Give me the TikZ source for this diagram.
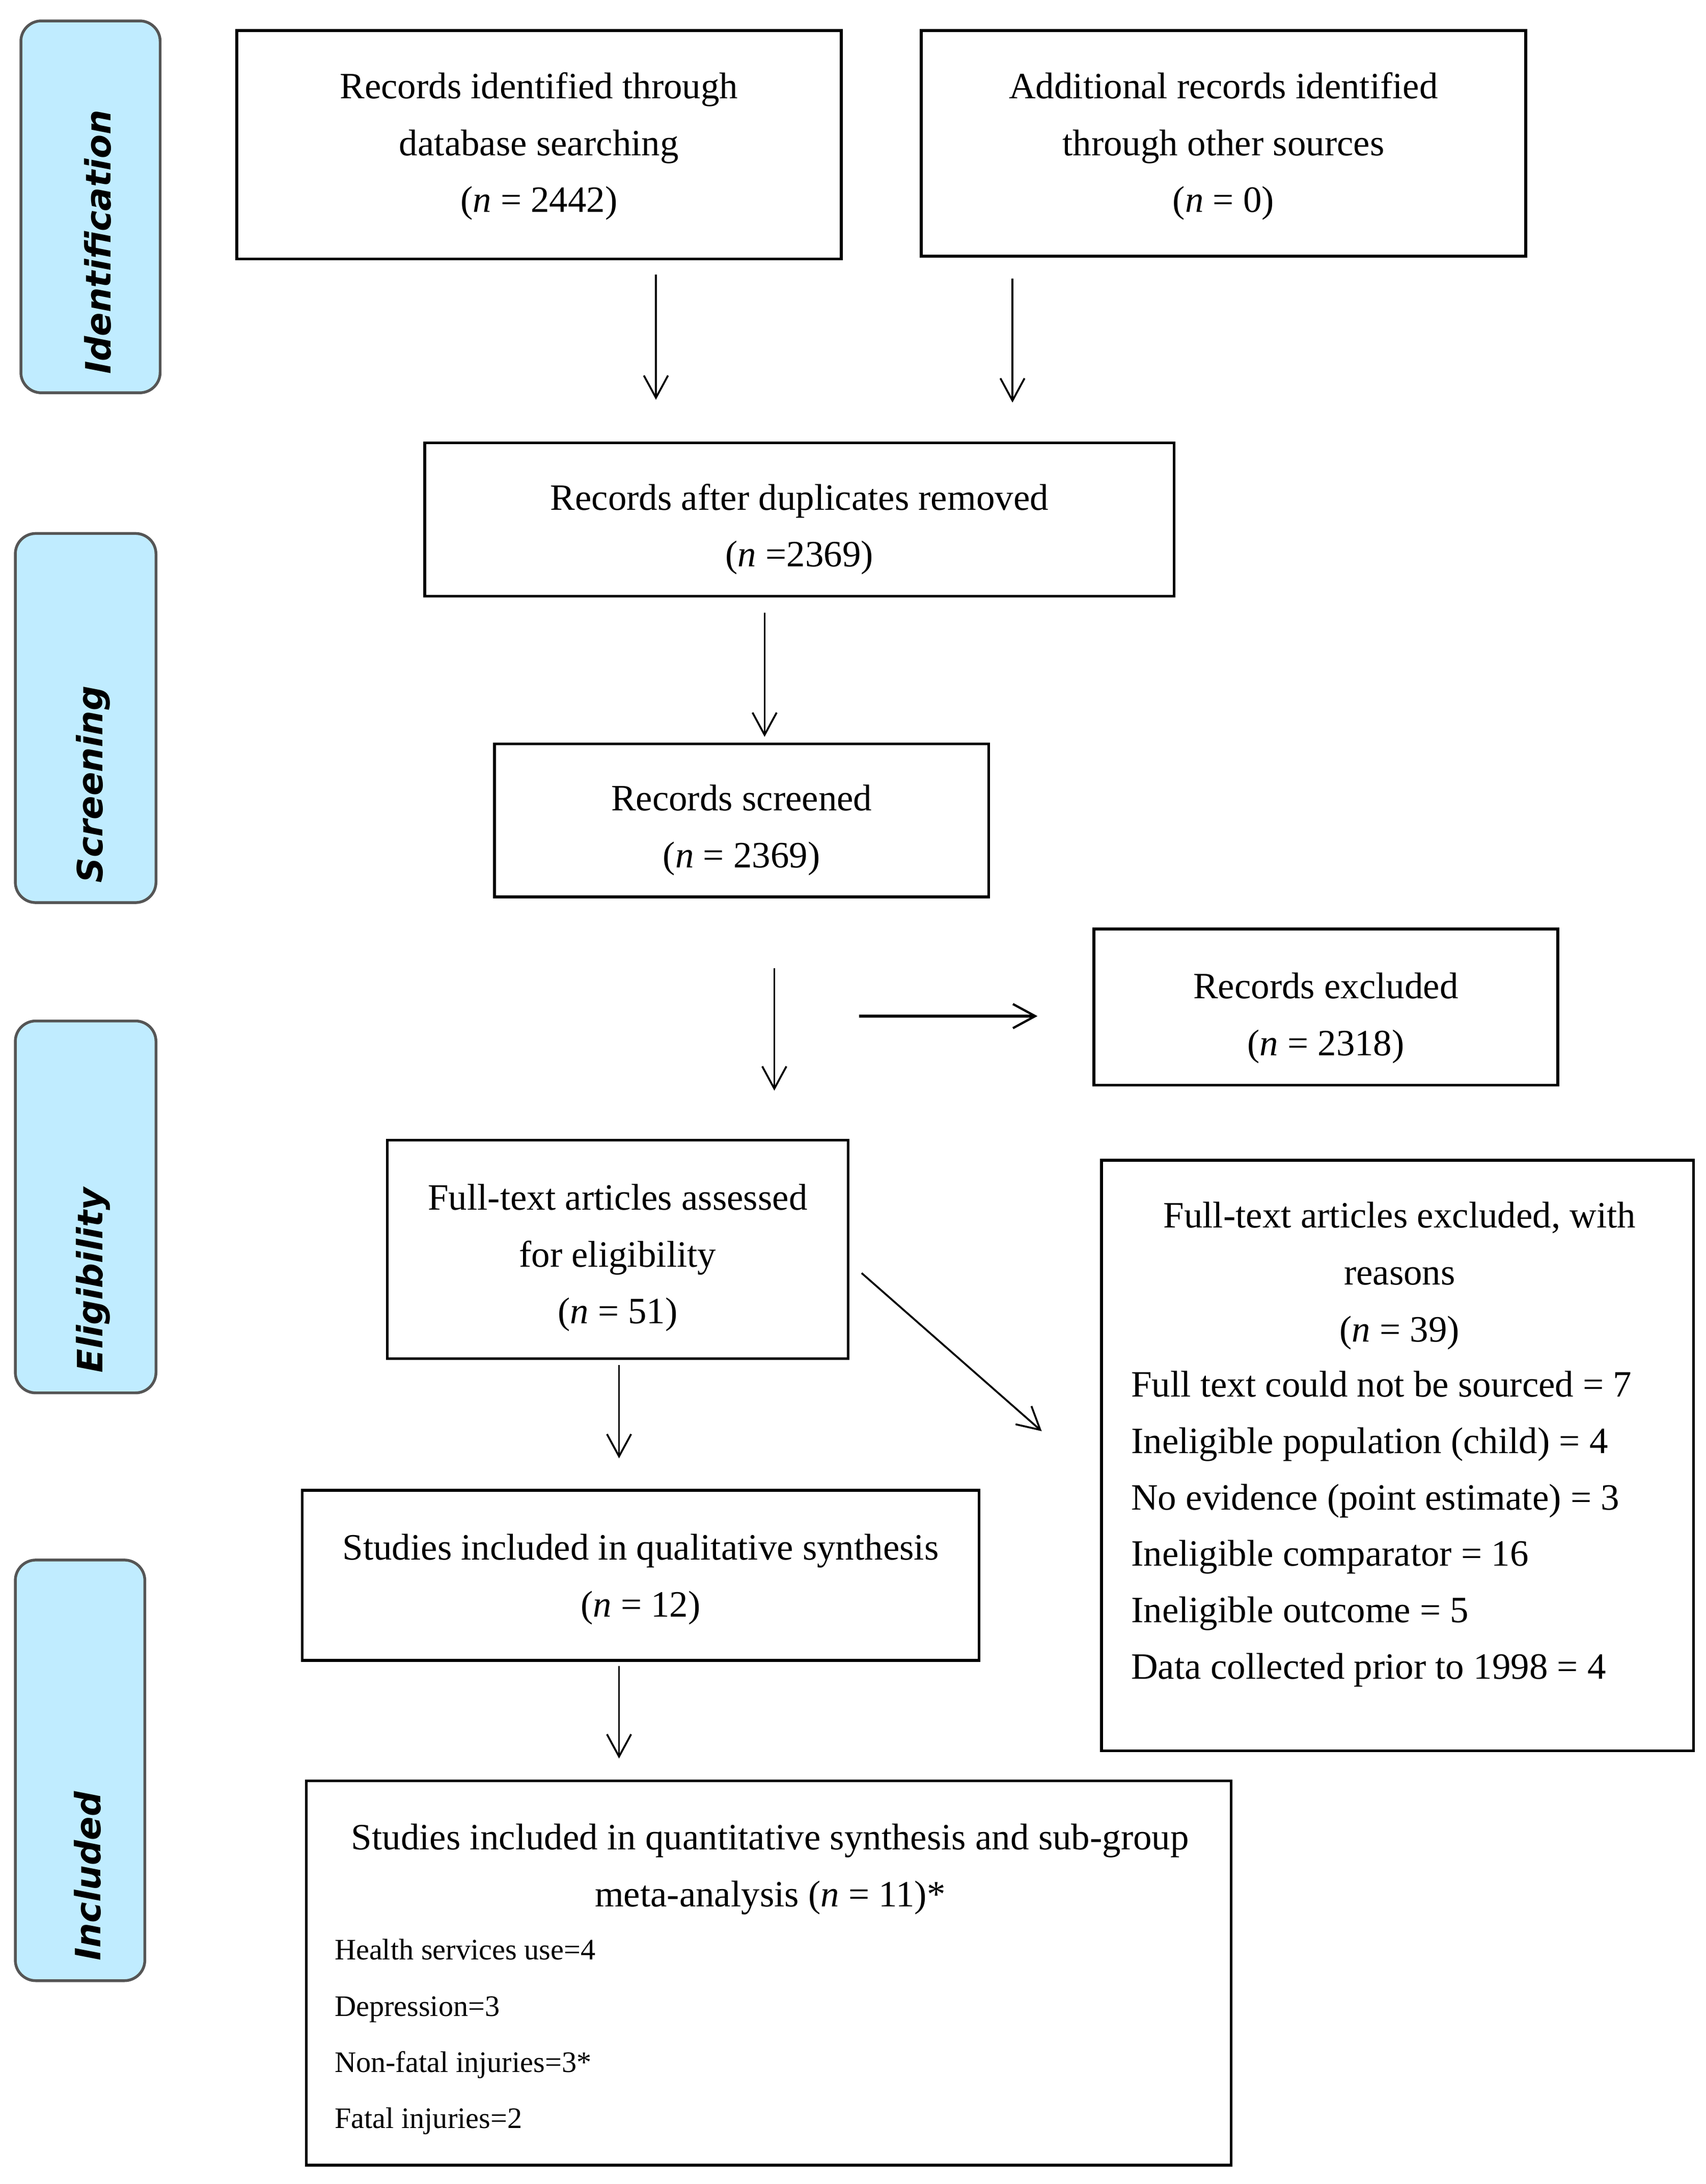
\documentclass[tikz,border=0pt]{standalone}
\usepackage{fontspec}
\setmainfont{Liberation Serif}
\newfontfamily\tabfont{DejaVu Sans}
\usetikzlibrary{arrows.meta}
\definecolor{tabblue}{RGB}{192,236,255}
\definecolor{tabedge}{RGB}{85,85,85}
\begin{document}
\begin{tikzpicture}[x=0.75pt,y=-0.75pt,
  tab/.style={draw=tabedge, line width=1.5pt, fill=tabblue, rounded corners=11pt, inner sep=0pt},
  tablabel/.style={rotate=90, anchor=west, inner sep=0pt, font=\tabfont\bfseries\itshape\fontsize{18.8}{22}\selectfont},
  box/.style={draw, line width=1.5pt, inner sep=0pt},
  txt/.style={inner sep=0pt, align=center, font=\fontsize{20}{30.6}\selectfont},
  listtxt/.style={inner sep=0pt, align=left, anchor=north west, font=\fontsize{20}{30.4}\selectfont},
  smalltxt/.style={inner sep=0pt, align=left, anchor=north west, font=\fontsize{16}{30.2}\selectfont},
  arr/.style={line width=1pt, -{Straight Barb[length=12pt,width=13pt,line width=1pt]}},
  thickarr/.style={line width=1.6pt, -{Straight Barb[length=12pt,width=13pt,line width=1.2pt]}}
]
\useasboundingbox (0,0) rectangle (1225,1568);

% phase tabs
\node[tab, minimum width={100*0.75pt}, minimum height={267*0.75pt}] (tabI) at (65,148.5) {};
\node[tablabel] (labI) at ([xshift=4pt,yshift=10.5pt]tabI.south) {Identification};
\node[tab, minimum width={101*0.75pt}, minimum height={265*0.75pt}] (tabS) at (61.5,515.5) {};
\node[tablabel] (labS) at ([xshift=4pt,yshift=11.25pt]tabS.south) {Screening};
\node[tab, minimum width={101*0.75pt}, minimum height={267*0.75pt}] (tabE) at (61.5,866.5) {};
\node[tablabel] (labE) at ([xshift=4pt,yshift=11.25pt]tabE.south) {Eligibility};
\node[tab, minimum width={93*0.75pt}, minimum height={302*0.75pt}] (tabN) at (57.5,1271) {};
\node[tablabel] (labN) at ([xshift=4pt,yshift=11.25pt]tabN.south) {Included};

% boxes
\node[box, minimum width={434*0.75pt}, minimum height={164*0.75pt}] (db) at (387,104) {};
\node[txt] (dbt) at ([yshift=-0.75pt]db.center)
  {Records identified through\\database searching\\(\textit{n} = 2442)};
\node[box, minimum width={434*0.75pt}, minimum height={162*0.75pt}] (other) at (878.5,103) {};
\node[txt] (othert) at ([yshift=-1.5pt]other.center)
  {Additional records identified\\through other sources\\(\textit{n} = 0)};
\node[box, minimum width={538*0.75pt}, minimum height={110*0.75pt}] (dup) at (574,373) {};
\node[txt] (dupt) at ([yshift=-5.25pt]dup.center)
  {Records after duplicates removed\\(\textit{n} =2369)};
\node[box, minimum width={355*0.75pt}, minimum height={110*0.75pt}] (scr) at (532.5,589) {};
\node[txt] (scrt) at ([yshift=-5.25pt]scr.center)
  {Records screened\\(\textit{n} = 2369)};
\node[box, minimum width={333*0.75pt}, minimum height={112*0.75pt}] (exc) at (952,723) {};
\node[txt] (exct) at ([yshift=-6pt]exc.center)
  {Records excluded\\(\textit{n} = 2318)};
\node[box, minimum width={331*0.75pt}, minimum height={157*0.75pt}] (full) at (443.5,897) {};
\node[txt] (fullt) at ([yshift=-4.5pt]full.center)
  {Full-text articles assessed\\for eligibility\\(\textit{n} = 51)};
\node[box, minimum width={425*0.75pt}, minimum height={424*0.75pt}] (fexc) at (1003.5,1045) {};
\node[txt] (fexch) at (1005,916)
  {Full-text articles excluded, with\\reasons\\(\textit{n} = 39)};
\node[listtxt] (fexcl) at (812,984)
  {Full text could not be sourced = 7\\Ineligible population (child) = 4\\No evidence (point estimate) = 3\\Ineligible comparator = 16\\Ineligible outcome = 5\\Data collected prior to 1998 = 4};
\node[box, minimum width={486*0.75pt}, minimum height={122*0.75pt}] (qual) at (460,1131) {};
\node[txt] (qualt) at ([yshift=-2.25pt]qual.center)
  {Studies included in qualitative synthesis\\(\textit{n} = 12)};
\node[box, minimum width={664*0.75pt}, minimum height={276*0.75pt}] (quant) at (552,1416.5) {};
\node[txt] (quanth) at (553,1342)
  {Studies included in quantitative synthesis and sub-group\\meta-analysis (\textit{n} = 11)*};
\node[smalltxt] (quantl) at (240,1392)
  {Health services use=4\\Depression=3\\Non-fatal injuries=3*\\Fatal injuries=2};

% arrow end points
\coordinate (a1s) at (471,197);   \coordinate (a1e) at (471,287);
\coordinate (a2s) at (727,200);   \coordinate (a2e) at (727,289);
\coordinate (a3s) at (549,440);   \coordinate (a3e) at (549,529);
\coordinate (a4s) at (556,695);   \coordinate (a4e) at (556,783);
\coordinate (a5s) at (617,729.5); \coordinate (a5e) at (745,729.5);
\coordinate (a6s) at (444.5,980); \coordinate (a6e) at (444.5,1047);
\coordinate (a7s) at (618.7,914); \coordinate (a7e) at (748,1027.5);
\coordinate (a8s) at (444.5,1196); \coordinate (a8e) at (444.5,1262.5);

\draw[arr] (a1s) -- (a1e);
\draw[arr] (a2s) -- (a2e);
\draw[arr] (a3s) -- (a3e);
\draw[arr] (a4s) -- (a4e);
\draw[thickarr] (a5s) -- (a5e);
\draw[arr] (a6s) -- (a6e);
\draw[arr] (a7s) -- (a7e);
\draw[arr] (a8s) -- (a8e);
\end{tikzpicture}
\end{document}
